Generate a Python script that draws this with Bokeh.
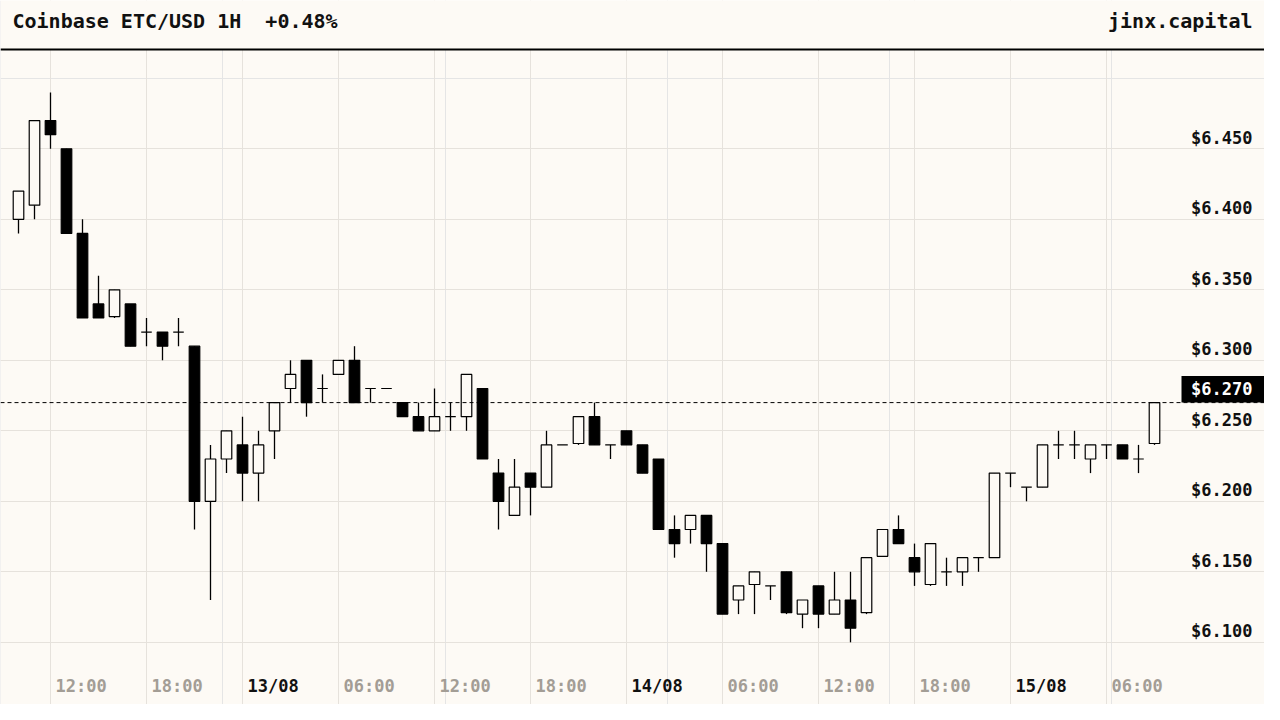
import pandas as pd
from bokeh.plotting import figure
from bokeh.models import Range1d, Grid, FixedTicker, Span, BoxAnnotation, ColumnDataSource
from bokeh.core.properties import value
from bokeh.embed import file_html
from bokeh.resources import INLINE

# Coinbase ETC/USD, hourly candles from 12/08 10:00 to 15/08 09:00
start = "2019-08-12 10:00"
opens = [6.400, 6.410, 6.470, 6.450, 6.390, 6.340, 6.331, 6.340, 6.320, 6.320, 6.320, 6.310,
         6.200, 6.230, 6.240, 6.220, 6.250, 6.280, 6.300, 6.280, 6.290, 6.300, 6.280, 6.280,
         6.270, 6.260, 6.250, 6.260, 6.260, 6.280, 6.220, 6.190, 6.220, 6.210, 6.240, 6.241,
         6.260, 6.240, 6.250, 6.240, 6.230, 6.180, 6.180, 6.190, 6.170, 6.130, 6.141, 6.140,
         6.150, 6.120, 6.140, 6.120, 6.130, 6.121, 6.161, 6.180, 6.160, 6.141, 6.150, 6.150,
         6.160, 6.160, 6.220, 6.210, 6.210, 6.240, 6.240, 6.230, 6.240, 6.240, 6.230, 6.241]
highs = [6.420, 6.470, 6.490, 6.450, 6.400, 6.360, 6.350, 6.340, 6.330, 6.320, 6.330, 6.310,
         6.240, 6.250, 6.260, 6.250, 6.270, 6.300, 6.300, 6.290, 6.300, 6.310, 6.280, 6.280,
         6.270, 6.270, 6.280, 6.270, 6.290, 6.280, 6.230, 6.230, 6.220, 6.250, 6.240, 6.260,
         6.270, 6.240, 6.250, 6.240, 6.230, 6.190, 6.190, 6.190, 6.170, 6.140, 6.150, 6.140,
         6.150, 6.130, 6.140, 6.150, 6.150, 6.160, 6.180, 6.190, 6.170, 6.170, 6.160, 6.160,
         6.160, 6.220, 6.220, 6.210, 6.240, 6.250, 6.250, 6.240, 6.240, 6.240, 6.240, 6.270]
lows = [6.390, 6.400, 6.450, 6.390, 6.330, 6.330, 6.330, 6.310, 6.310, 6.300, 6.310, 6.180,
        6.130, 6.220, 6.200, 6.200, 6.230, 6.270, 6.260, 6.270, 6.290, 6.270, 6.270, 6.280,
        6.260, 6.250, 6.250, 6.250, 6.250, 6.230, 6.180, 6.190, 6.190, 6.210, 6.240, 6.240,
        6.240, 6.230, 6.240, 6.220, 6.180, 6.160, 6.170, 6.150, 6.120, 6.120, 6.120, 6.130,
        6.120, 6.110, 6.110, 6.120, 6.100, 6.120, 6.161, 6.170, 6.140, 6.140, 6.140, 6.140,
        6.150, 6.160, 6.210, 6.200, 6.210, 6.230, 6.230, 6.220, 6.230, 6.230, 6.220, 6.240]
closes = [6.420, 6.470, 6.460, 6.390, 6.330, 6.330, 6.350, 6.310, 6.320, 6.310, 6.320, 6.200,
          6.230, 6.250, 6.220, 6.240, 6.270, 6.290, 6.270, 6.280, 6.300, 6.270, 6.280, 6.280,
          6.260, 6.250, 6.260, 6.260, 6.290, 6.230, 6.200, 6.210, 6.210, 6.240, 6.240, 6.260,
          6.240, 6.240, 6.240, 6.220, 6.180, 6.170, 6.190, 6.170, 6.120, 6.140, 6.150, 6.140,
          6.121, 6.130, 6.120, 6.130, 6.110, 6.160, 6.180, 6.170, 6.150, 6.170, 6.150, 6.160,
          6.160, 6.220, 6.220, 6.210, 6.240, 6.240, 6.240, 6.240, 6.240, 6.230, 6.230, 6.270]

price_ticks = [6.10, 6.15, 6.20, 6.25, 6.30, 6.35, 6.40, 6.45]
time_ticks = pd.date_range("2019-08-12 12:00", periods=12, freq="6h")
time_labels = ["12:00", "18:00", "13/08", "06:00", "12:00", "18:00",
               "14/08", "06:00", "12:00", "18:00", "15/08", "06:00"]

title_text = "Coinbase ETC/USD 1H\u00a0 +0.48%"
brand_text = "jinx.capital"

BG = "#fdfaf5"
GRID = "#e6e2dc"
MUTED = "#a39d95"
FONT = value("DejaVu Sans Mono")

W, H = 1264, 704
HOUR = 3600 * 1000
PXH = 16.0      # pixels per hour
PXU = 1410.0    # pixels per dollar

anchor = time_ticks[0].value // 10**6
x_start = anchor - 50 / PXH * HOUR
x_end = x_start + W / PXH * HOUR
y_end = 6.25 + 430.3 / PXU
y_start = y_end - H / PXU


def fx(px):
    return x_start + px / PXH * HOUR


def fy(py):
    return y_end - py / PXU


times = pd.date_range(start, periods=len(opens), freq="h").asi8 // 10**6
src = ColumnDataSource(dict(
    t=times, o=opens, h=highs, l=lows, c=closes,
    top=[max(a, b) for a, b in zip(opens, closes)],
    bottom=[min(a, b) for a, b in zip(opens, closes)],
    fill=[BG if c >= o else "black" for o, c in zip(opens, closes)],
))

p = figure(width=W, height=H, x_range=Range1d(x_start, x_end), y_range=Range1d(y_start, y_end),
           x_axis_location=None, y_axis_location=None, title=None,
           output_backend="svg", toolbar_location=None, tools="", min_border=0,
           background_fill_color=BG, border_fill_color=BG, outline_line_color=None)

p.add_layout(Grid(dimension=0, ticker=FixedTicker(ticks=list(time_ticks.asi8 // 10**6)),
                  grid_line_color=GRID, grid_line_width=1))
p.add_layout(Grid(dimension=1, ticker=FixedTicker(ticks=price_ticks),
                  grid_line_color=GRID, grid_line_width=1))

# header band
p.add_layout(BoxAnnotation(left=x_start, right=x_end, bottom=fy(49), top=y_end,
                           fill_color=BG, fill_alpha=1, line_color=None, level="underlay"))
p.add_layout(Span(location=fy(49), dimension="width", line_color="black", line_width=2))
p.text(x=[fx(12)], y=[fy(20)], text=[title_text], text_font=FONT, text_font_style="bold",
       text_font_size="20px", text_color="#111111", text_baseline="middle")
p.text(x=[fx(1252)], y=[fy(20)], text=[brand_text], text_font=FONT, text_font_style="bold",
       text_font_size="20px", text_color="#111111", text_align="right", text_baseline="middle")

# candles
p.segment(x0="t", y0="l", x1="t", y1="h", source=src, line_color="black", line_width=1.3)
p.vbar(x="t", top="top", bottom="bottom", width=0.66 * HOUR, source=src,
       fill_color="fill", line_color="black", line_width=1.2)

# last price line and tag
last = closes[-1]
p.add_layout(Span(location=last, dimension="width", line_color="black",
                  line_width=1, line_dash="4 3"))
p.quad(left=[fx(1181)], right=[x_end], bottom=[last], top=[last + 26.6 / PXU],
       fill_color="black", line_color=None)
p.text(x=[fx(1252)], y=[last], text=["$%.3f" % last], text_font=FONT, text_font_style="bold",
       text_font_size="17px", text_color="white", text_align="right",
       text_baseline="middle", y_offset=-13.5)

# price labels sit just above their grid lines
p.text(x=[fx(1252)] * len(price_ticks), y=price_ticks, text=["$%.3f" % v for v in price_ticks],
       text_font=FONT, text_font_style="bold", text_font_size="17px", text_color="#111111",
       text_align="right", text_baseline="middle", y_offset=-11)

# time labels, dates in black
p.text(x=list(time_ticks.asi8 // 10**6), y=[fy(685.7)] * len(time_labels), text=time_labels,
       text_font=FONT, text_font_style="bold", text_font_size="17px",
       text_color=["#111111" if "/" in s else MUTED for s in time_labels],
       text_baseline="middle", x_offset=5)

open("out.html", "w").write(file_html(p, INLINE))
